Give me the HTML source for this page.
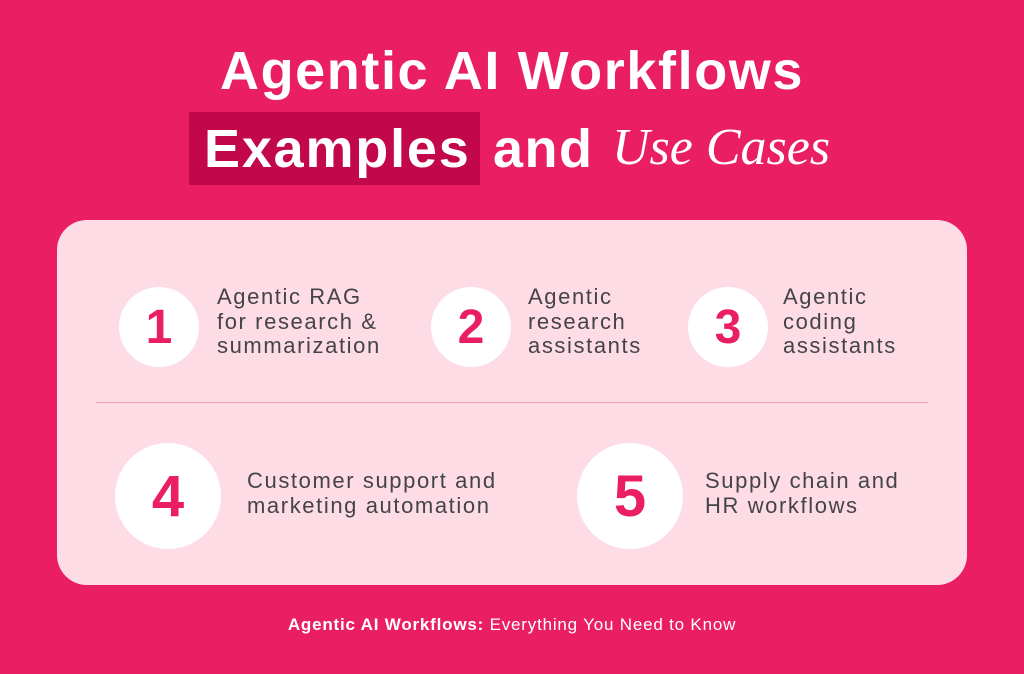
<!DOCTYPE html>
<html><head><style>
body{margin:0;width:1024px;height:674px;background:#EA1F63;position:relative;overflow:hidden;font-family:"Liberation Sans",sans-serif}
.t{position:absolute;color:#fff;font-weight:bold;white-space:nowrap}
.panel{position:absolute;left:57px;top:220px;width:910px;height:365px;background:#FDDCE6;border-radius:30px}
.c{position:absolute;background:#fff;border-radius:50%;color:#EA1F63;font-weight:bold;display:flex;align-items:center;justify-content:center}
.s{position:absolute;color:#444;font-size:22px;letter-spacing:1.6px;line-height:24.5px;white-space:nowrap}
</style></head><body>
<div class="t" style="left:0;width:1024px;text-align:center;top:40px;font-size:54px;letter-spacing:1.6px">Agentic AI Workflows</div>
<div style="position:absolute;left:189px;top:112px;width:291px;height:73px;background:#C2074B"></div>
<div class="t" style="left:204px;top:118px;font-size:54px;letter-spacing:1.8px">Examples</div>
<div class="t" style="left:493px;top:118px;font-size:54px;letter-spacing:1.5px">and</div>
<div class="t" style="left:612px;top:118px;font-size:52px;font-weight:normal;font-style:italic;font-family:'Liberation Serif',serif">Use Cases</div>
<div class="panel"></div>
<div style="position:absolute;left:96px;top:402px;width:832px;height:1px;background:#F49AB5"></div>
<div class="c" style="left:119px;top:287px;width:80px;height:80px;font-size:48px">1</div>
<div class="c" style="left:431px;top:287px;width:80px;height:80px;font-size:48px">2</div>
<div class="c" style="left:688px;top:287px;width:80px;height:80px;font-size:48px">3</div>
<div class="c" style="left:115px;top:443px;width:106px;height:106px;font-size:58px">4</div>
<div class="c" style="left:577px;top:443px;width:106px;height:106px;font-size:58px">5</div>
<div class="s" style="left:217px;top:285px">Agentic RAG<br>for research &amp;<br>summarization</div>
<div class="s" style="left:528px;top:285px">Agentic<br>research<br>assistants</div>
<div class="s" style="left:783px;top:285px">Agentic<br>coding<br>assistants</div>
<div class="s" style="left:247px;top:469px">Customer support and<br>marketing automation</div>
<div class="s" style="left:705px;top:469px">Supply chain and<br>HR workflows</div>
<div class="t" style="left:0;width:1024px;text-align:center;top:615px;font-size:17px;letter-spacing:0.8px;font-weight:normal"><b>Agentic AI Workflows:</b> Everything You Need to Know</div>
</body></html>
